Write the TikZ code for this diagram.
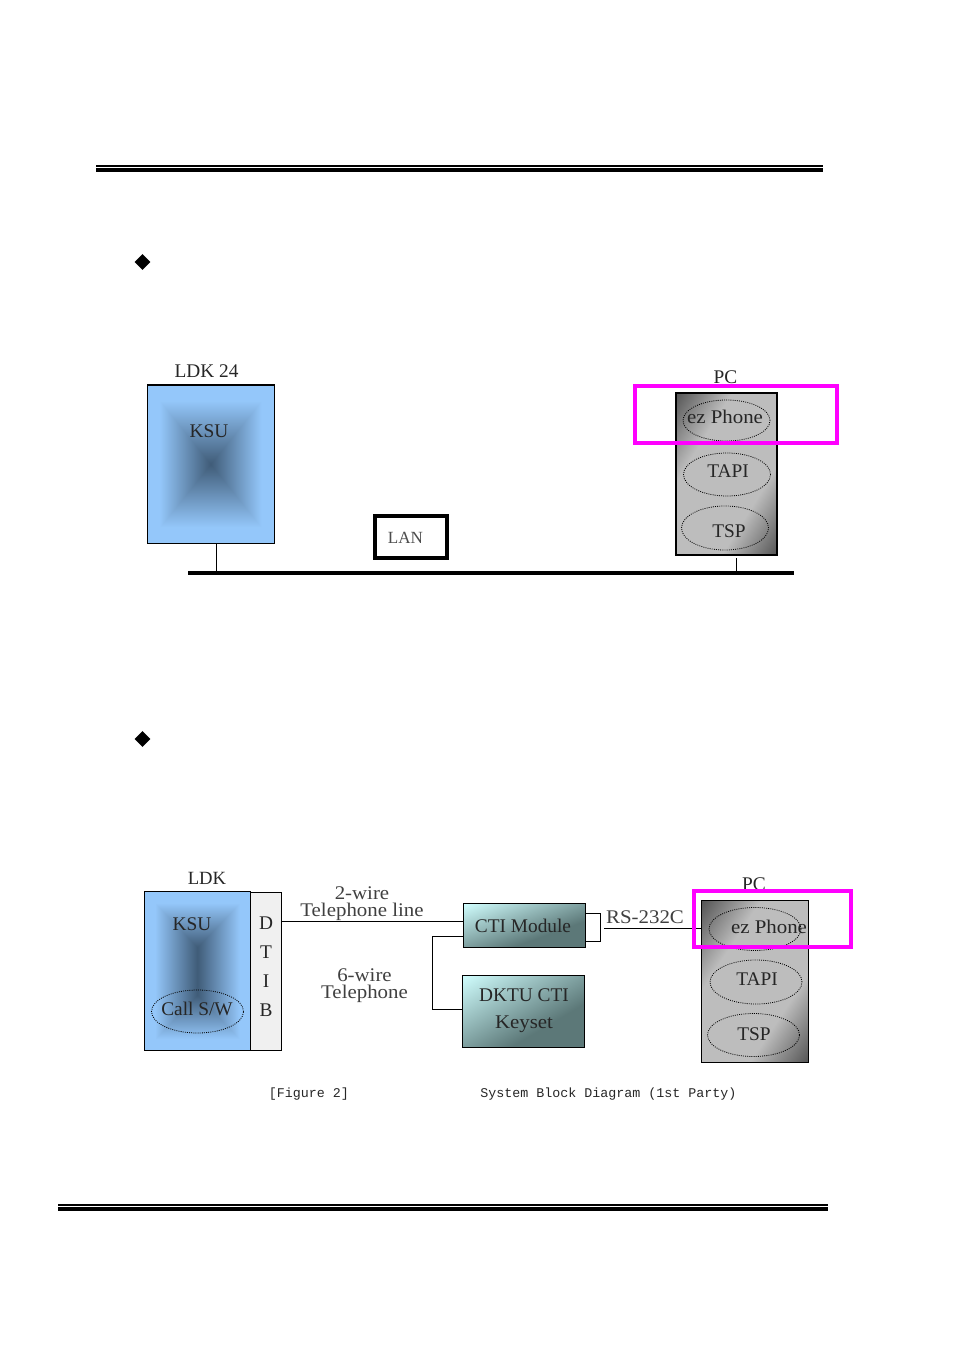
\documentclass[tikz,border=0pt]{standalone}
\usepackage{fontspec}
\setmainfont{Liberation Serif}
\setmonofont{Liberation Mono}
\newfontfamily\widefont[FakeStretch=1.08]{Liberation Serif}
\usetikzlibrary{shapes.geometric}
\def\px{0.75pt}
\pgfdeclarefunctionalshading{ksubox}{\pgfpointorigin}{\pgfpoint{100bp}{100bp}}{}{
  50 sub abs 25 div exch 50 sub abs 25 div 2 copy lt {exch} if pop
  0.8 div dup 1 gt {pop 1} if
  dup 0.33 mul 0.25 add exch dup 0.42 mul 0.36 add exch 0.51 mul 0.47 add
}
\pgfdeclarefunctionalshading{ksutall}{\pgfpointorigin}{\pgfpoint{100bp}{100bp}}{}{
  50 sub abs 25 div 0.3 sub dup 0 lt {pop 0} if 0.7 div exch 50 sub abs 25 div 2 copy lt {exch} if pop
  0.8 div dup 1 gt {pop 1} if
  dup 0.33 mul 0.25 add exch dup 0.42 mul 0.36 add exch 0.51 mul 0.47 add
}
\pgfdeclarefunctionalshading{pcgrey}{\pgfpointorigin}{\pgfpoint{100bp}{100bp}}{}{
  25 sub 50 div exch 25 sub 50 div exch sub abs
  0.45 sub dup 0 lt {pop 0} if 0.55 div 0.41 mul 0.74 exch sub dup dup
}
\pgfdeclarefunctionalshading{ctiteal}{\pgfpointorigin}{\pgfpoint{100bp}{100bp}}{}{
  25 sub 50 div 1 exch sub exch 25 sub 50 div add 2 div
  0.7 div dup 1 gt {pop 1} if
  dup 0.46 mul 0.82 exch sub exch dup 0.53 mul 1 exch sub exch 0.53 mul 1 exch sub
}
\definecolor{hilite}{RGB}{255,0,255}
\definecolor{dtibfill}{RGB}{240,240,240}
\tikzset{
    lbl/.style={font=\fontsize{14.5}{12.8}\selectfont,inner sep=0,text=black!85,align=center},
    lblwide/.style={lbl,font=\widefont\fontsize{14.5}{12.8}\selectfont},
    captxt/.style={font=\ttfamily\fontsize{10}{12}\selectfont,inner sep=0,text=black!85},
    box/.style={draw,inner sep=0,line width=1*\px},
    oval/.style={ellipse,draw,inner sep=0,line width=0.8*\px,dash pattern=on 0.7pt off 0.9pt},
    hibox/.style={draw=hilite,line width=4*\px},
    rule/.style={line width=4.4*\px},
    bullet/.style={diamond,fill=black,inner sep=0,minimum width=16*\px,minimum height=16*\px},
}
\begin{document}
\begin{tikzpicture}[x=0.75pt,y=-0.75pt]
        \useasboundingbox (0,0) rectangle (954,1351);
        %% Page rules
        \draw[rule] (96,170) -- (823,170);
        \draw[line width=1.3*\px] (96,166) -- (823,166);
        \draw[rule] (58,1209) -- (828,1209);
        \draw[line width=1.3*\px] (58,1205) -- (828,1205);
        \node[bullet] (mark1) at (142.5,262) {};
        \node[bullet] (mark2) at (142.5,739) {};
        %% LAN setup
        \node[box,shading=ksubox,minimum width=127*\px,minimum height=158*\px] (ksu) at (210.5,464) {};
        \node[lbl] (ksutxt) at (209,431) {KSU};
        \node[lbl] (ldk) at (206.5,371) {LDK 24};
        \node[draw,line width=3.5*\px,minimum width=72*\px,minimum height=42*\px] (lan) at (411,537) {};
        \node[lbl,font=\fontsize{12.8}{14}\selectfont,text=black!70] (lantxt) at (405.5,537.5) {LAN};
        \coordinate (busl) at (188,573);
        \coordinate (busr) at (794,573);
        \draw[line width=4*\px] (busl) -- (busr);
        \draw[line width=1*\px] (216.5,543) -- (216.5,573);
        \draw[line width=1*\px] (736.5,558) -- (736.5,573);
        %% PC
        \node[box,line width=2*\px,shading=pcgrey,minimum width=101*\px,minimum height=162*\px] (pc) at (726.5,474) {};
        \node[oval,minimum width=87*\px,minimum height=41*\px] (ezo) at (726.5,420.5) {};
        \node[oval,minimum width=87*\px,minimum height=43*\px] (tapio) at (727,474.5) {};
        \node[oval,minimum width=87*\px,minimum height=44*\px] (tspo) at (725,528) {};
        \node[lblwide] (eztxt) at (725,416.5) {ez Phone};
        \node[lbl] (tapitxt) at (728,471.5) {TAPI};
        \node[lbl] (tsptxt) at (729,531.5) {TSP};
        \node[lbl] (pclbl) at (725.5,377.5) {PC};
        \draw[hibox] (635,386) rectangle (837,443);
        %% Direct setup
        \node[box,fill=dtibfill,minimum width=31*\px,minimum height=158*\px] (dtib) at (265.8,971.3) {};
        \node[box,shading=ksutall,minimum width=106*\px,minimum height=158.5*\px] (ksub) at (197.3,971) {};
        \node[lbl] (ksubtxt) at (192,924) {KSU};
        \node[lbl,font=\fontsize{14}{12.8}\selectfont] (ldkb) at (207,878) {LDK};
        \node[oval,minimum width=92*\px,minimum height=43*\px] (callo) at (197.5,1011.5) {};
        \node[lbl] (calltxt) at (197,1009) {Call S/W};
        \node[lbl] (dd) at (266,923) {D};
        \node[lbl] (dt) at (266,952) {T};
        \node[lbl] (di) at (266,981) {I};
        \node[lbl] (db) at (266,1010) {B};
        \node[box,shading=ctiteal,minimum width=122*\px,minimum height=44*\px] (cti) at (524.5,925.3) {};
        \node[lbl] (ctitxt) at (523,926) {CTI Module};
        \node[box,shading=ctiteal,minimum width=122*\px,minimum height=72*\px] (dktu) at (523.3,1011) {};
        \node[lbl] (dktutxt) at (524,995) {DKTU CTI};
        \node[lblwide] (keytxt) at (524,1024) {Keyset};
        \node[box,minimum width=14.6*\px,minimum height=28.4*\px] (port) at (593,927.5) {};
        \draw[line width=1*\px] (dtib.east |- 0,921) -- (cti.west |- 0,921);
        \draw[line width=1*\px] (cti.west |- 0,936.5) -- (432.5,936.5) -- (432.5,1009) -- (dktu.west |- 0,1009);
        \node[lblwide,text=black!75] (twow) at (362,904) {2-wire\\Telephone line};
        \node[lblwide,text=black!75] (sixw) at (364.5,986) {6-wire\\Telephone};
        \node[lblwide,text=black!75] (rs) at (645,917) {RS-232C};
        %% PC again
        \node[box,shading=pcgrey,minimum width=106.6*\px,minimum height=161.6*\px] (pcb) at (755,981.5) {};
        \node[oval,minimum width=92*\px,minimum height=43*\px] (ezob) at (755,929) {};
        \node[oval,minimum width=92*\px,minimum height=44*\px] (tapiob) at (756,982) {};
        \node[oval,minimum width=92*\px,minimum height=43*\px] (tspob) at (753.5,1035) {};
        \coordinate (rsend) at (604,928);
        \draw[line width=1*\px] (rsend) -- (pcb.west |- rsend);
        \node[lblwide] (eztxtb) at (769,926.5) {ez Phone};
        \node[lbl] (tapitxtb) at (757,979.5) {TAPI};
        \node[lbl] (tsptxtb) at (754,1034.5) {TSP};
        \node[lbl] (pclblb) at (754,884.5) {PC};
        \draw[hibox] (693.7,891.3) rectangle (850.7,947.3);
        %% Caption
        \node[captxt] (figno) at (309,1094) {[Figure 2]};
        \node[captxt] (figtxt) at (608.5,1094) {System Block Diagram (1st Party)};
    \end{tikzpicture}
\end{document}
